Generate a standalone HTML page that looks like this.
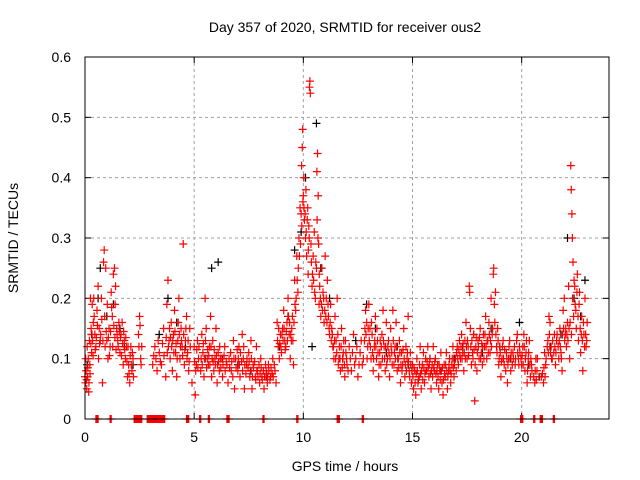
<!DOCTYPE html>
<html><head><meta charset="utf-8"><style>
body{margin:0;background:#fff}
svg{display:block;font-family:"Liberation Sans",sans-serif}
</style></head><body>
<svg id="chart" width="640" height="480">
<rect width="640" height="480" fill="#fff"/>
<text x="345" y="32" font-size="14" text-anchor="middle">Day 357 of 2020, SRMTID for receiver ous2</text>
<text x="18" y="238" font-size="14" text-anchor="middle" transform="rotate(-90 18 238)">SRMTID / TECUs</text>
<text x="345" y="471" font-size="14" text-anchor="middle">GPS time / hours</text>
<g id="grid"></g>
<g id="ticks"></g>
<g id="marks"></g>
<rect x="85" y="57" width="524" height="362" fill="none" stroke="#000" stroke-width="1"/>
</svg>
<script>
const xTicks=[0,5,10,15,20];
const yTicks=[0,0.1,0.2,0.3,0.4,0.5,0.6];
const yTickLabels=["0","0.1","0.2","0.3","0.4","0.5","0.6"];
const blackSeries=[[0.1,0.09],[0.3,0.14],[0.6,0.2],[0.7,0.25],[1.0,0.17],[1.3,0.19],[1.6,0.15],[1.8,0.12],[2.2,0.09],[3.4,0.14],[3.8,0.2],[4.2,0.16],[4.6,0.12],[5.5,0.1],[5.8,0.25],[6.1,0.26],[6.3,0.1],[7.0,0.09],[7.6,0.08],[8.3,0.07],[8.9,0.12],[9.3,0.17],[9.6,0.28],[9.9,0.31],[10.1,0.4],[10.4,0.12],[10.6,0.49],[10.8,0.25],[11.2,0.2],[11.8,0.1],[12.4,0.13],[12.9,0.19],[13.3,0.15],[13.8,0.11],[14.3,0.12],[14.8,0.09],[15.3,0.07],[15.8,0.1],[16.3,0.08],[16.9,0.1],[17.3,0.12],[17.8,0.14],[18.2,0.11],[18.6,0.15],[19.0,0.12],[19.5,0.1],[19.9,0.16],[20.3,0.09],[20.8,0.07],[21.3,0.12],[21.8,0.14],[22.1,0.3],[22.4,0.2],[22.7,0.17],[22.9,0.23]];
const redSeries=[
[0.0,0.07],[0.02,0.06],[0.05,0.08],[0.08,0.05],[0.1,0.12],[0.12,0.07],[0.15,0.1],[0.18,0.06],[0.2,0.13],[0.22,0.09],[0.25,0.2],[0.28,0.15],[0.3,0.11],[0.33,0.19],[0.35,0.13],[0.38,0.16],[0.4,0.2],[0.45,0.14],[0.5,0.12],[0.55,0.18],[0.6,0.22],[0.62,0.1],[0.65,0.15],[0.7,0.13],[0.75,0.2],[0.8,0.06],[0.85,0.26],[0.88,0.28],[0.9,0.17],[0.95,0.25],[1.0,0.13],[1.05,0.1],[1.1,0.15],[1.15,0.12],[1.2,0.21],[1.25,0.17],[1.3,0.24],[1.35,0.25],[1.38,0.19],[1.4,0.22],[1.45,0.15],[1.5,0.13],[1.55,0.16],[1.6,0.11],[1.65,0.14],[1.7,0.16],[1.75,0.09],[1.8,0.13],[1.85,0.1],[1.9,0.12],[1.95,0.07],[2.0,0.09],[2.05,0.06],[2.1,0.12],[2.15,0.08],[2.2,0.1],[2.45,0.14],[2.5,0.17],[2.55,0.1],[2.6,0.12],
[3.1,0.09],[3.2,0.12],[3.3,0.08],[3.4,0.11],[3.5,0.09],[3.6,0.15],[3.7,0.07],[3.75,0.19],[3.8,0.23],[3.85,0.13],[3.9,0.1],[3.95,0.16],[4.0,0.08],[4.05,0.14],[4.1,0.18],[4.15,0.11],[4.2,0.07],[4.25,0.13],[4.3,0.2],[4.35,0.1],[4.4,0.15],[4.45,0.12],[4.5,0.29],[4.55,0.09],[4.6,0.13],[4.65,0.17],[4.7,0.11],[4.75,0.08],[4.8,0.15],[4.9,0.06],[5.0,0.12],[5.05,0.04],[5.1,0.09],[5.15,0.13],[5.2,0.1],[5.3,0.08],[5.35,0.14],[5.4,0.11],[5.45,0.07],[5.5,0.2],[5.55,0.15],[5.6,0.1],[5.65,0.09],[5.7,0.12],[5.75,0.17],[5.8,0.07],[5.85,0.13],[5.9,0.08],[5.95,0.1],[6.0,0.15],[6.05,0.06],[6.1,0.11],[6.15,0.08],[6.2,0.1],[6.3,0.07],[6.4,0.12],[6.5,0.09],[6.55,0.06],[6.6,0.1],[6.7,0.08],[6.8,0.13],[6.85,0.05],[6.9,0.1],[7.0,0.08],[7.05,0.12],[7.1,0.07],[7.2,0.14],[7.25,0.1],[7.3,0.05],[7.4,0.09],[7.5,0.11],[7.55,0.07],[7.6,0.13],[7.65,0.05],[7.7,0.09],[7.8,0.07],[7.85,0.12],[7.9,0.08],[8.0,0.06],[8.05,0.1],[8.1,0.07],[8.2,0.05],[8.3,0.08],[8.35,0.06],[8.4,0.09],[8.5,0.07],[8.6,0.1],[8.7,0.08],[8.75,0.06],
[8.8,0.16],[8.85,0.12],[8.9,0.1],[8.95,0.14],[9.0,0.11],[9.05,0.15],[9.1,0.18],[9.15,0.13],[9.2,0.12],[9.25,0.16],[9.3,0.2],[9.35,0.14],[9.4,0.1],[9.45,0.13],[9.5,0.17],[9.55,0.09],[9.6,0.23],[9.65,0.18],[9.7,0.27],[9.75,0.21],[9.8,0.3],[9.85,0.35],[9.9,0.34],[9.92,0.42],[9.95,0.45],[9.97,0.48],[10.0,0.37],[10.02,0.4],[10.05,0.33],[10.1,0.3],[10.12,0.38],[10.15,0.27],[10.2,0.35],[10.22,0.24],[10.25,0.32],[10.28,0.55],[10.3,0.56],[10.32,0.54],[10.35,0.29],[10.4,0.22],[10.45,0.27],[10.5,0.31],[10.55,0.2],[10.6,0.25],[10.62,0.41],[10.65,0.44],[10.68,0.37],[10.7,0.29],[10.72,0.19],[10.75,0.22],[10.8,0.17],[10.85,0.25],[10.9,0.21],[10.95,0.16],[11.0,0.27],[11.05,0.2],[11.1,0.23],[11.15,0.17],[11.2,0.14],[11.25,0.19],[11.3,0.15],[11.35,0.12],[11.4,0.1],[11.45,0.17],[11.5,0.13],[11.55,0.2],[11.6,0.09],[11.65,0.12],[11.7,0.08],[11.75,0.15],[11.8,0.1],[11.85,0.13],[11.9,0.07],[11.95,0.11],[12.0,0.09],[12.1,0.12],[12.2,0.08],[12.3,0.14],[12.4,0.1],[12.5,0.07],[12.6,0.11],[12.7,0.09],[12.8,0.13],[12.85,0.18],[12.9,0.16],[12.95,0.12],[13.0,0.19],[13.05,0.15],[13.1,0.1],[13.15,0.14],[13.2,0.08],[13.25,0.12],[13.3,0.17],[13.35,0.1],[13.4,0.13],[13.45,0.07],[13.5,0.11],[13.55,0.09],[13.6,0.14],[13.65,0.18],[13.7,0.12],[13.75,0.08],[13.8,0.16],[13.85,0.1],[13.9,0.13],[13.95,0.07],[14.0,0.15],[14.05,0.11],[14.1,0.18],[14.15,0.09],[14.2,0.12],[14.25,0.16],[14.3,0.08],[14.35,0.1],[14.4,0.13],[14.45,0.06],[14.5,0.11],[14.55,0.09],[14.6,0.15],[14.65,0.07],[14.7,0.12],[14.75,0.1],[14.8,0.17],[14.85,0.08],[14.9,0.11],[14.95,0.06],
[15.0,0.09],[15.05,0.05],[15.1,0.08],[15.15,0.04],[15.2,0.1],[15.25,0.06],[15.3,0.07],[15.35,0.12],[15.4,0.05],[15.45,0.09],[15.5,0.11],[15.55,0.06],[15.6,0.1],[15.65,0.08],[15.7,0.12],[15.75,0.07],[15.8,0.1],[15.85,0.05],[15.9,0.09],[15.95,0.12],[16.0,0.08],[16.05,0.1],[16.1,0.06],[16.15,0.09],[16.2,0.05],[16.25,0.08],[16.3,0.11],[16.35,0.06],[16.4,0.04],[16.45,0.09],[16.5,0.07],[16.55,0.11],[16.6,0.05],[16.65,0.08],[16.7,0.1],[16.75,0.06],[16.8,0.09],[16.85,0.12],[16.9,0.07],[16.95,0.1],[17.0,0.08],[17.05,0.12],[17.1,0.09],[17.15,0.13],[17.2,0.1],[17.25,0.14],[17.3,0.11],[17.35,0.08],[17.4,0.13],[17.45,0.16],[17.5,0.1],[17.55,0.12],[17.6,0.22],[17.62,0.21],[17.65,0.15],[17.7,0.09],[17.75,0.11],[17.8,0.14],[17.85,0.03],[17.9,0.12],[17.95,0.08],[18.0,0.13],[18.05,0.1],[18.1,0.15],[18.15,0.11],[18.2,0.09],[18.25,0.14],[18.3,0.12],[18.35,0.17],[18.4,0.1],[18.45,0.13],[18.5,0.16],[18.55,0.11],[18.6,0.2],[18.65,0.14],[18.7,0.24],[18.72,0.25],[18.75,0.19],[18.8,0.21],[18.85,0.12],[18.9,0.15],[18.95,0.09],[19.0,0.12],[19.05,0.07],[19.1,0.1],[19.15,0.13],[19.2,0.09],[19.3,0.11],[19.35,0.06],[19.4,0.1],[19.45,0.13],[19.5,0.08],[19.6,0.11],[19.7,0.09],[19.8,0.14],[19.85,0.1],[19.9,0.12],[20.0,0.09],[20.05,0.12],[20.1,0.14],[20.15,0.08],[20.2,0.11],[20.25,0.06],[20.3,0.1],[20.35,0.13],[20.4,0.07],[20.45,0.09],[20.6,0.06],[20.65,0.1],[20.7,0.08],[20.9,0.07],[21.0,0.06],[21.05,0.11],[21.1,0.09],[21.2,0.13],[21.25,0.17],[21.3,0.16],[21.35,0.12],[21.4,0.1],[21.5,0.14],[21.55,0.09],[21.6,0.13],[21.7,0.1],[21.75,0.15],[21.8,0.11],[21.85,0.08],[21.9,0.18],[21.95,0.2],[22.0,0.14],[22.05,0.12],[22.1,0.16],[22.15,0.22],[22.2,0.1],[22.25,0.42],[22.27,0.38],[22.3,0.34],[22.32,0.3],[22.35,0.26],[22.4,0.23],[22.45,0.19],[22.5,0.15],[22.55,0.24],[22.6,0.13],[22.65,0.21],[22.7,0.11],[22.75,0.17],[22.8,0.08],[22.85,0.14],[22.9,0.2],[22.95,0.12],[23.0,0.16]
];
const redSeriesExtra=[
[0.03,0.1],[0.07,0.065],[0.13,0.085],[0.17,0.045],[0.23,0.075],[0.27,0.125],[0.32,0.14],[0.37,0.105],[0.42,0.17],[0.47,0.115],[0.52,0.135],[0.57,0.155],[0.67,0.125],[0.72,0.14],[0.77,0.165],[0.82,0.13],[0.92,0.12],[0.97,0.145],[1.02,0.19],[1.07,0.135],[1.12,0.105],[1.17,0.145],[1.22,0.185],[1.27,0.12],[1.32,0.155],[1.37,0.135],[1.42,0.115],[1.47,0.14],[1.52,0.12],[1.57,0.145],[1.62,0.135],[1.67,0.105],[1.72,0.125],[1.77,0.145],[1.82,0.115],[1.87,0.135],[1.92,0.095],[1.97,0.12],[2.02,0.075],[2.07,0.105],[2.12,0.09],[2.17,0.11],[2.22,0.07],[2.47,0.12],[2.52,0.155],[2.57,0.09],
[3.15,0.105],[3.25,0.1],[3.35,0.13],[3.45,0.095],[3.55,0.125],[3.62,0.105],[3.72,0.135],[3.77,0.11],[3.82,0.12],[3.87,0.15],[3.92,0.135],[3.97,0.12],[4.02,0.13],[4.07,0.11],[4.12,0.145],[4.17,0.125],[4.22,0.1],[4.27,0.16],[4.32,0.14],[4.37,0.12],[4.42,0.13],[4.47,0.105],[4.52,0.14],[4.57,0.115],[4.62,0.15],[4.67,0.1],[4.72,0.13],[4.77,0.095],[4.82,0.12],[5.02,0.095],[5.07,0.08],[5.12,0.115],[5.17,0.085],[5.22,0.12],[5.32,0.1],[5.37,0.09],[5.42,0.125],[5.47,0.1],[5.52,0.13],[5.57,0.085],[5.62,0.115],[5.67,0.105],[5.72,0.09],[5.77,0.12],[5.82,0.1],[5.87,0.095],[5.92,0.115],[5.97,0.09],[6.02,0.105],[6.07,0.09],[6.12,0.095],[6.17,0.12],[6.22,0.085],[6.27,0.1],[6.32,0.09],[6.37,0.105],[6.42,0.08],[6.47,0.095],[6.62,0.085],[6.67,0.11],[6.72,0.095],[6.77,0.07],[6.82,0.1],[6.92,0.085],[6.97,0.115],[7.02,0.1],[7.07,0.09],[7.12,0.11],[7.17,0.095],[7.22,0.08],[7.27,0.12],[7.32,0.09],[7.37,0.075],[7.42,0.1],[7.47,0.085],[7.52,0.095],[7.57,0.08],[7.62,0.1],[7.67,0.07],[7.72,0.085],[7.77,0.095],[7.82,0.065],[7.87,0.08],[7.92,0.07],[7.97,0.09],[8.02,0.075],[8.07,0.085],[8.12,0.065],[8.17,0.08],[8.22,0.07],[8.27,0.09],[8.32,0.075],[8.37,0.07],[8.42,0.08],[8.47,0.065],[8.52,0.085],[8.57,0.075],[8.62,0.07],[8.67,0.09],
[8.82,0.13],[8.87,0.15],[8.92,0.125],[8.97,0.12],[9.02,0.14],[9.07,0.13],[9.12,0.15],[9.17,0.115],[9.22,0.145],[9.27,0.13],[9.32,0.17],[9.37,0.16],[9.42,0.14],[9.47,0.15],[9.52,0.13],[9.57,0.16],[9.62,0.19],[9.67,0.2],[9.72,0.23],[9.77,0.25],[9.82,0.27],[9.87,0.29],[9.93,0.32],[9.98,0.36],[10.03,0.35],[10.08,0.34],[10.13,0.31],[10.18,0.33],[10.23,0.28],[10.27,0.3],[10.37,0.26],[10.42,0.24],[10.47,0.23],[10.52,0.21],[10.57,0.26],[10.63,0.33],[10.67,0.3],[10.73,0.24],[10.78,0.2],[10.83,0.19],[10.88,0.18],[10.93,0.2],[10.98,0.18],[11.03,0.17],[11.08,0.16],[11.13,0.19],[11.18,0.15],[11.23,0.16],[11.28,0.13],[11.33,0.14],[11.38,0.12],[11.43,0.13],[11.48,0.1],[11.53,0.11],[11.58,0.14],[11.63,0.1],[11.68,0.1],[11.73,0.12],[11.78,0.085],[11.83,0.11],[11.88,0.09],[11.93,0.13],[11.98,0.1],[12.05,0.08],[12.15,0.1],[12.25,0.11],[12.35,0.09],[12.45,0.12],[12.55,0.09],[12.65,0.13],[12.75,0.1],[12.82,0.15],[12.87,0.14],[12.92,0.1],[12.97,0.15],[13.02,0.13],[13.07,0.12],[13.12,0.16],[13.17,0.11],[13.22,0.1],[13.27,0.13],[13.32,0.12],[13.37,0.15],[13.42,0.11],[13.47,0.09],[13.52,0.13],[13.57,0.12],[13.62,0.1],[13.67,0.13],[13.72,0.1],[13.77,0.12],[13.82,0.09],[13.87,0.12],[13.92,0.11],[13.97,0.1],[14.02,0.12],[14.07,0.09],[14.12,0.13],[14.17,0.11],[14.22,0.1],[14.27,0.12],[14.32,0.1],[14.37,0.085],[14.42,0.11],[14.47,0.09],[14.52,0.08],[14.57,0.115],[14.62,0.1],[14.67,0.09],[14.72,0.08],[14.77,0.11],[14.82,0.095],[14.87,0.07],[14.92,0.09],[14.97,0.08],
[15.02,0.07],[15.07,0.085],[15.12,0.06],[15.17,0.075],[15.22,0.08],[15.27,0.065],[15.32,0.09],[15.37,0.075],[15.42,0.08],[15.47,0.065],[15.52,0.085],[15.57,0.075],[15.62,0.08],[15.67,0.095],[15.72,0.085],[15.77,0.09],[15.82,0.075],[15.87,0.08],[15.92,0.07],[15.97,0.085],[16.02,0.095],[16.07,0.075],[16.12,0.08],[16.17,0.07],[16.22,0.09],[16.27,0.065],[16.32,0.08],[16.37,0.085],[16.42,0.065],[16.47,0.075],[16.52,0.09],[16.57,0.08],[16.62,0.07],[16.67,0.09],[16.72,0.08],[16.77,0.075],[16.82,0.1],[16.87,0.085],[16.92,0.09],[16.97,0.1],[17.02,0.11],[17.07,0.1],[17.12,0.115],[17.17,0.105],[17.22,0.12],[17.27,0.1],[17.32,0.125],[17.37,0.11],[17.42,0.1],[17.47,0.12],[17.52,0.13],[17.57,0.105],[17.67,0.12],[17.72,0.13],[17.77,0.1],[17.82,0.115],[17.87,0.09],[17.92,0.135],[17.97,0.11],[18.02,0.12],[18.07,0.135],[18.12,0.1],[18.17,0.125],[18.22,0.12],[18.27,0.1],[18.32,0.14],[18.37,0.12],[18.42,0.13],[18.47,0.11],[18.52,0.14],[18.57,0.13],[18.62,0.12],[18.67,0.15],[18.77,0.16],[18.82,0.14],[18.87,0.11],[18.92,0.13],[18.97,0.1],[19.02,0.11],[19.07,0.095],[19.12,0.12],[19.17,0.1],[19.22,0.115],[19.27,0.08],[19.32,0.1],[19.37,0.09],[19.42,0.12],[19.47,0.1],[19.52,0.11],[19.57,0.09],[19.62,0.1],[19.67,0.12],[19.72,0.1],[19.77,0.13],[19.82,0.11],[19.87,0.09],[19.92,0.11],[19.97,0.1],[20.02,0.105],[20.07,0.09],[20.12,0.12],[20.17,0.1],[20.22,0.13],[20.27,0.08],[20.32,0.11],[20.37,0.09],[20.42,0.1],[20.47,0.08],[20.55,0.07],[20.62,0.08],[20.67,0.065],[20.72,0.1],[20.95,0.075],[21.02,0.085],[21.07,0.07],[21.12,0.1],[21.17,0.12],[21.22,0.11],[21.27,0.14],[21.32,0.11],[21.37,0.1],[21.42,0.13],[21.47,0.11],[21.52,0.12],[21.57,0.11],[21.62,0.14],[21.67,0.12],[21.72,0.13],[21.77,0.12],[21.82,0.1],[21.87,0.14],[21.92,0.15],[21.97,0.13],[22.02,0.15],[22.07,0.14],[22.12,0.13],[22.17,0.15],[22.22,0.16],[22.28,0.14],[22.33,0.2],[22.38,0.17],[22.43,0.22],[22.48,0.18],[22.53,0.21],[22.58,0.17],[22.63,0.19],[22.68,0.15],[22.73,0.14],[22.78,0.13],[22.83,0.16],[22.88,0.12],[22.93,0.14],[22.98,0.13]
];
const zeroTimes=[0.5,0.55,0.6,1.15,1.2,2.25,2.3,2.35,2.4,2.45,2.5,2.55,2.6,2.85,2.9,2.95,3.0,3.05,3.1,3.15,3.2,3.25,3.3,3.35,3.4,3.45,3.5,3.55,3.6,3.65,4.65,4.7,4.75,5.25,5.3,5.65,5.7,6.5,6.55,6.6,8.15,8.2,9.7,9.75,11.55,11.6,11.65,12.7,12.75,19.95,20.0,20.05,20.55,20.6,20.85,20.9,20.95,21.45,21.5];
const X0=85,X1=609,Y0=419,Y1=57;
function sx(t){return X0+(t/24)*(X1-X0);}
function sy(v){return Y0-(v/0.6)*(Y0-Y1);}
const NS="http://www.w3.org/2000/svg";
const grid=document.getElementById('grid'),ticks=document.getElementById('ticks'),marks=document.getElementById('marks');
function mk(tag,attrs,parent){const e=document.createElementNS(NS,tag);for(const k in attrs)e.setAttribute(k,attrs[k]);parent.appendChild(e);return e;}
xTicks.forEach(t=>{
  const x=sx(t);
  if(t>0){const g=mk('line',{x1:x,x2:x,y1:Y1,y2:Y0,stroke:'#a0a0a0','stroke-dasharray':'3,3'},grid);
  
  }
  mk('line',{x1:x,x2:x,y1:Y0,y2:Y0-6,stroke:'#000'},ticks);
  mk('line',{x1:x,x2:x,y1:Y1,y2:Y1+6,stroke:'#000'},ticks);
  const l=mk('text',{x:x,y:Y0+23,'font-size':14,'text-anchor':'middle'},ticks);
  l.textContent=String(t);
  
  
});
yTicks.forEach((v,i)=>{
  const y=sy(v);
  if(v>0&&v<0.6){const g=mk('line',{x1:X0,x2:X1,y1:y,y2:y,stroke:'#a0a0a0','stroke-dasharray':'3,3'},grid);
  
  }
  mk('line',{x1:X0,x2:X0+6,y1:y,y2:y,stroke:'#000'},ticks);
  mk('line',{x1:X1,x2:X1-6,y1:y,y2:y,stroke:'#000'},ticks);
  const l=mk('text',{x:X0-14,y:y+5,'font-size':14,'text-anchor':'end'},ticks);
  l.textContent=yTickLabels[i];
  
  
});
function drawSeries(series,color,name){
  let d='';
  series.forEach(p=>{const x=sx(p[0]),y=sy(p[1]);d+=`M${x-4},${y}h8M${x},${y-4}v8`;});
  const path=mk('path',{d:d,stroke:color,'stroke-width':1.2,fill:'none'},marks);
  
  
}
drawSeries(blackSeries,'#000','series-black');
drawSeries(redSeries,'#f00','series-red');
drawSeries(redSeriesExtra,'#f00','series-red-extra');
drawSeries(zeroTimes.map(t=>[t,0]),'#f00','series-red-zero');
</script>
</body></html>
